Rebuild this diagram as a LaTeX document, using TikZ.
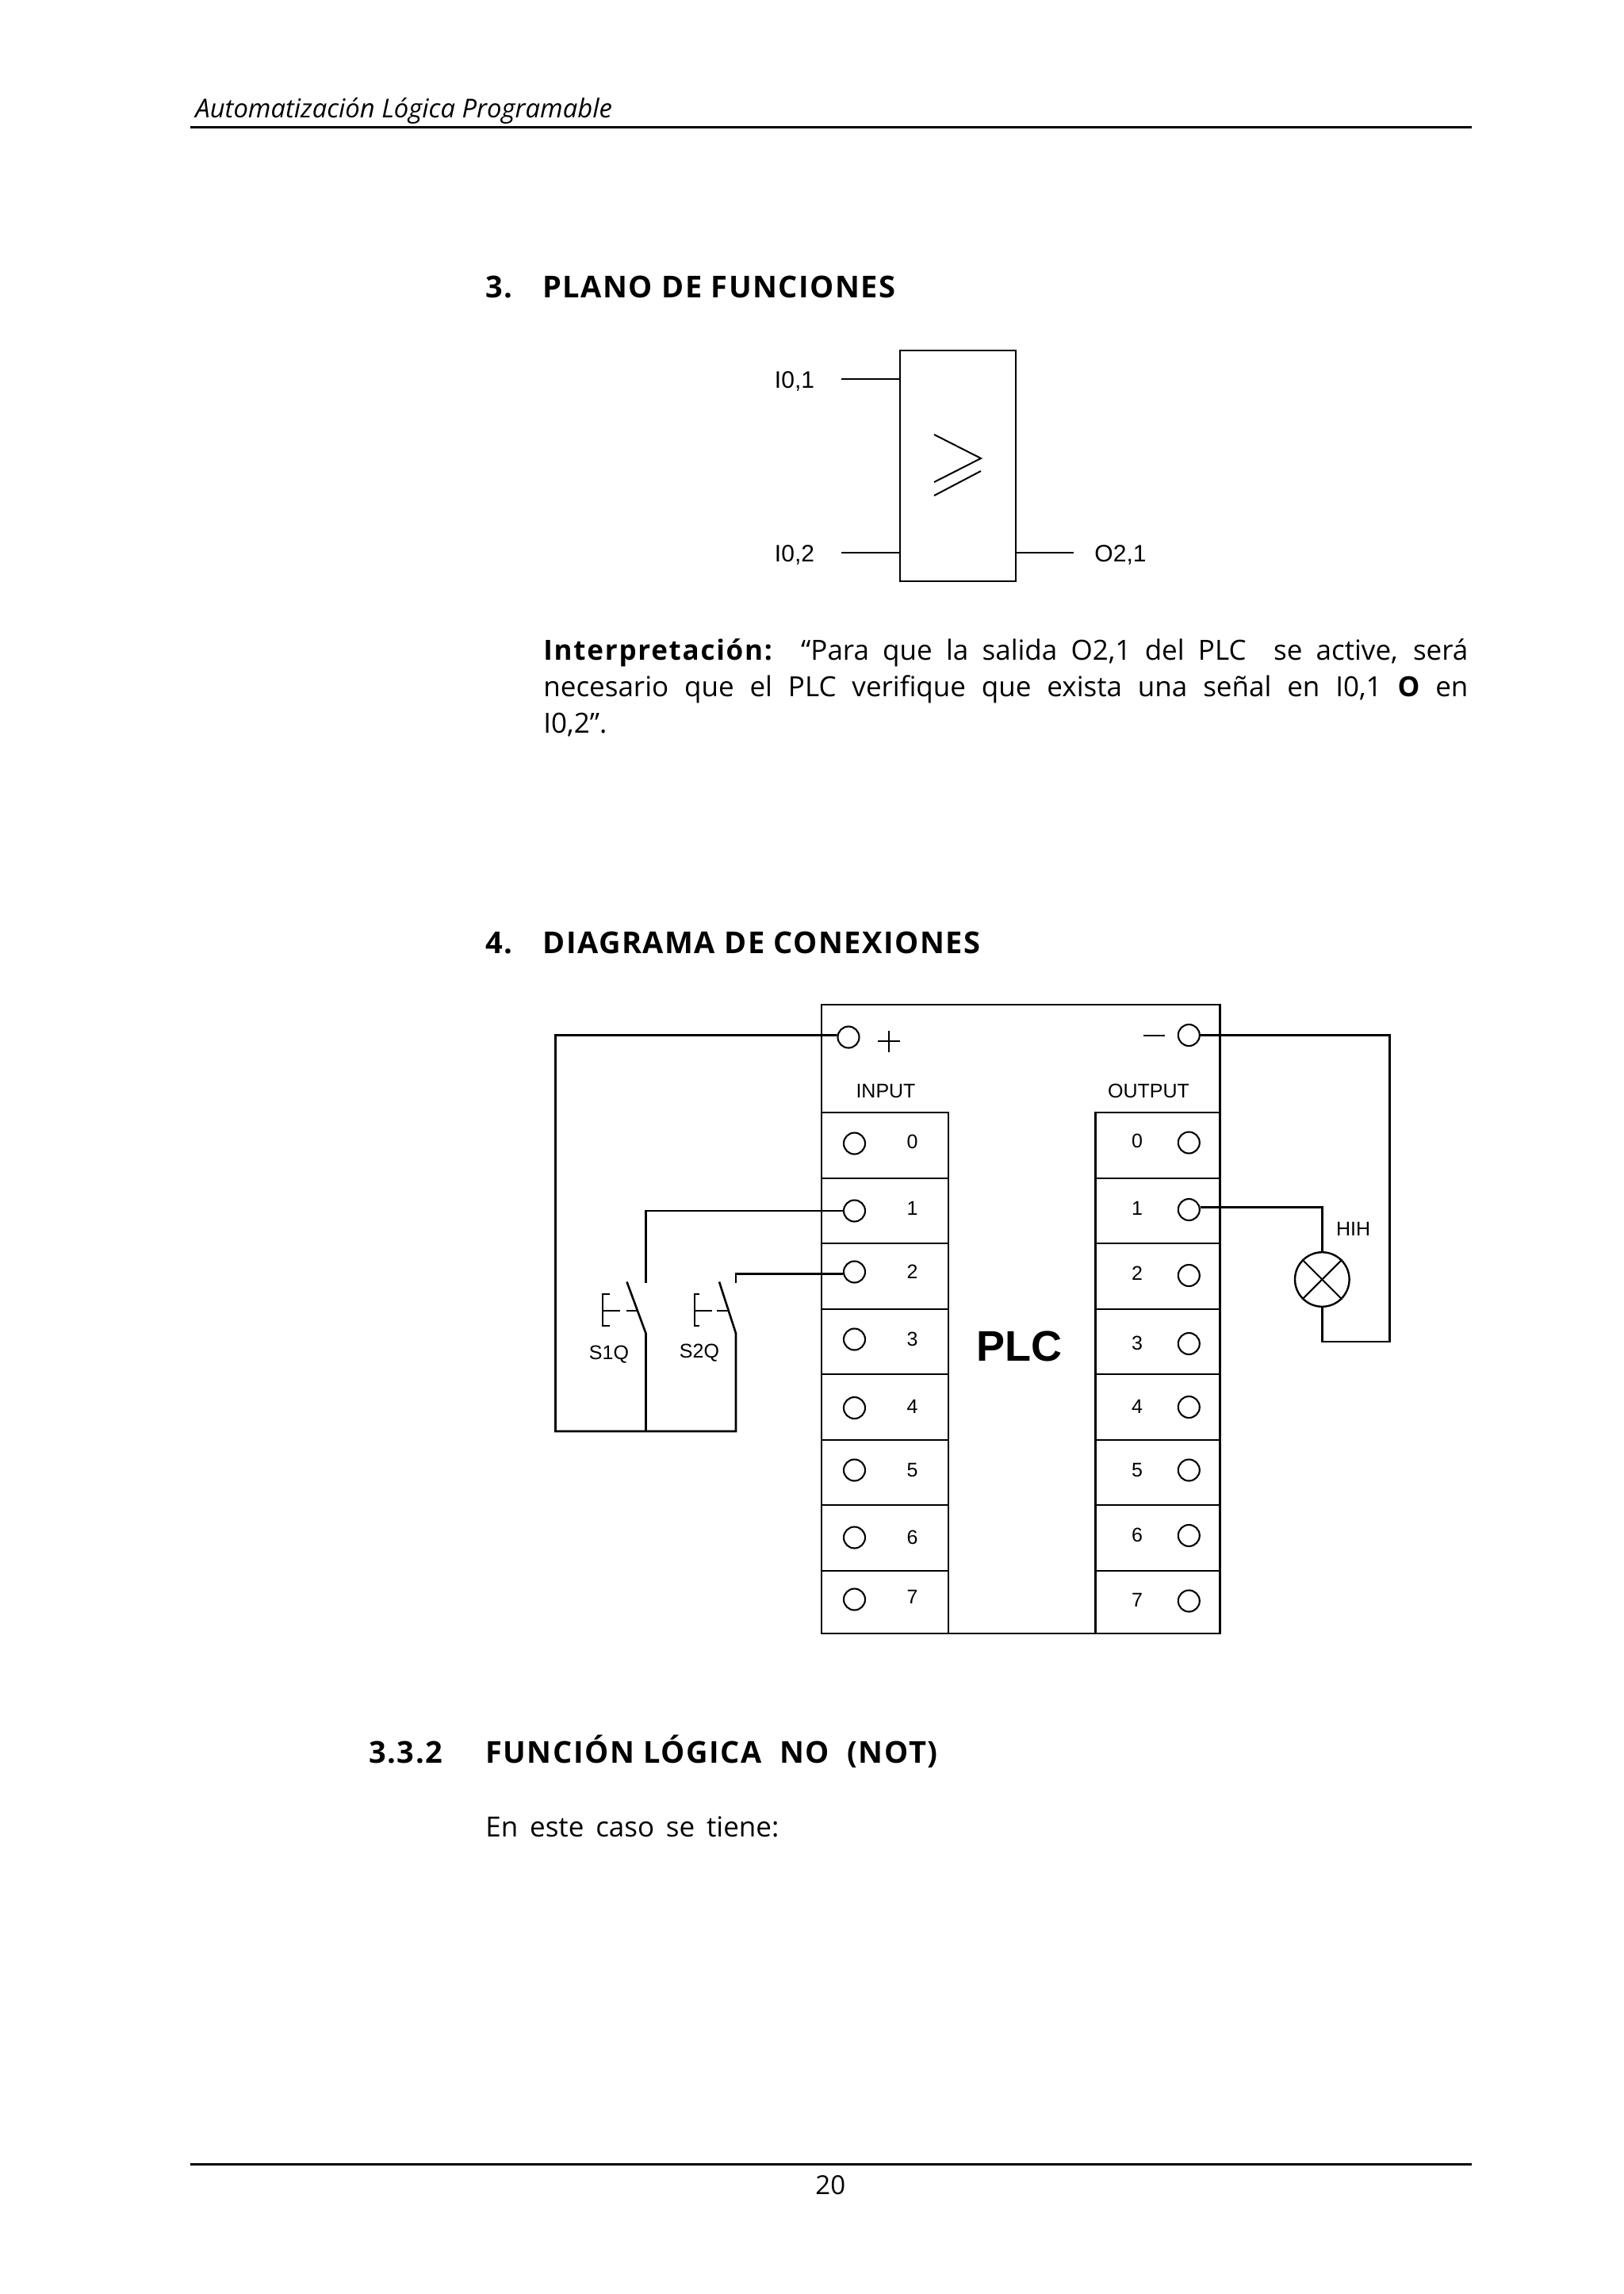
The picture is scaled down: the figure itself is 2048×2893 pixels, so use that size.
\documentclass[tikz,border=0pt]{standalone}
\usepackage{fontspec}
\setmainfont{Open Sans}
\newfontfamily\arialf{Liberation Sans}
\tikzset{
  txt/.style={inner sep=0pt,anchor=base west,font=\fontsize{17.5}{20}\selectfont},
  head/.style={inner sep=0pt,anchor=base west,font=\fontsize{19}{20}\selectfont\bfseries\addfontfeature{LetterSpace=4}},
  lab/.style={inner sep=0pt,font=\arialf\fontsize{12.5}{14}\selectfont},
  wire/.style={line width=1.3pt,line join=miter},
  thin wire/.style={line width=1pt},
  rule/.style={line width=1.6pt},
  term/.style={circle,draw,inner sep=0pt,minimum size=13.5pt,line width=1.05pt,fill=white},
  lamp/.style={circle,draw,inner sep=0pt,minimum size=34.3pt,line width=1.2pt},
}
\begin{document}
\begin{tikzpicture}[x=0.5pt,y=-0.5pt]
\useasboundingbox (0,0) rectangle (2048,2893);
% page furniture
\coordinate (rt1) at (240,160.5); \coordinate (rt2) at (1856,160.5);
\coordinate (rb1) at (240,2729.5); \coordinate (rb2) at (1856,2729.5);
\draw[rule] (rt1) -- (rt2);
\draw[rule] (rb1) -- (rb2);
\node[txt,font=\fontsize{16.4}{20}\selectfont\itshape] (hdr) at (246,148.5) {Automatización Lógica Programable};
\node[txt,font=\fontsize{16.5}{20}\selectfont] (pg) at (1028,2767.5) {20};
% headings
\node[head] (h3n) at (612,375) {3.};
\node[head] (h3) at (684,375) {PLANO DE FUNCIONES};
\node[head] (h4n) at (612,1202) {4.};
\node[head] (h4) at (684,1202) {DIAGRAMA DE CONEXIONES};
\node[head] (h5n) at (465,2223) {3.3.2};
\node[head] (h5) at (612,2223) {FUNCIÓN LÓGICA\ \ NO\ \ (NOT)};
\node[txt] (en) at (612,2316) {\hbox to 185pt{En este caso se tiene:}};
% interpretation
\node[txt] (p1) at (685,832) {\hbox to 583pt{\textbf{\addfontfeature{LetterSpace=5}Interpretación:}\ \ “Para que la salida O2,1 del PLC\ \ se active, será}};
\node[txt] (p2) at (685,878) {\hbox to 583pt{necesario que el PLC verifique que exista una señal en I0,1 \textbf{O} en}};
\node[txt] (p3) at (685,924) {I0,2”.};
% function block
\node[draw,wire,inner sep=0pt,minimum width=73pt,minimum height=145.5pt] (fb) at (1208,587.5) {};
\coordinate (a1) at (1061,478); \coordinate (a2) at (1061,697); \coordinate (a3) at (1354,697);
\draw[wire] (a1) -- (a1 -| fb.west);
\draw[wire] (a2) -- (a2 -| fb.west);
\draw[wire] (a3 -| fb.east) -- (a3);
\node[lab,font=\arialf\fontsize{15}{16}\selectfont] (l1) at (1002,480.5) {I0,1};
\node[lab,font=\arialf\fontsize{15}{16}\selectfont] (l2) at (1002,699.5) {I0,2};
\node[lab,font=\arialf\fontsize{15}{16}\selectfont] (l3) at (1413,699.5) {O2,1};
\coordinate (g1) at (1178,548); \coordinate (g2) at (1237,578); \coordinate (g3) at (1178,608);
\coordinate (g4) at (1237,594); \coordinate (g5) at (1178,625);
\draw[thin wire] (g1) -- (g2) -- (g3);
\draw[thin wire] (g4) -- (g5);
% PLC body
\coordinate (bodyTL) at (1036,1267); \coordinate (bodyBR) at (1538.7,2060);
\draw[wire] (bodyTL) rectangle (bodyBR);
\coordinate (colI) at (1196,1403); \coordinate (colIb) at (1196,2060);
\coordinate (colO) at (1381.7,1403); \coordinate (colOb) at (1381.7,2060);
\draw[wire] (bodyTL |- colI) -- (colI) -- (colIb);
\draw[wire] (bodyBR |- colO) -- (colO) -- (colOb);
\foreach \yy in {1486,1568,1651,1733,1816,1898,1981}{
  \draw[wire] (1036,\yy) -- (1196,\yy);
  \draw[wire] (1381.7,\yy) -- (1538.7,\yy);
}
\node[lab] (inp) at (1117,1376) {INPUT};
\node[lab] (outp) at (1448.5,1376) {OUTPUT};
\node[inner sep=0pt,font=\arialf\fontsize{27}{30}\selectfont\bfseries] (plc) at (1285.5,1698) {PLC};
% terminals
\node[term] (tp) at (1070,1308) {};
\node[term] (tm) at (1499.3,1305.5) {};
\foreach \n/\iy/\ily/\oy/\oly in {0/1442/1439.5/1441/1439,1/1527/1524/1525.5/1524,2/1604/1604/1608.5/1606,3/1689/1689/1694.5/1694,4/1775.5/1774/1774.5/1774,5/1854/1853.5/1854/1853.5,6/1939/1939/1936.5/1936,7/2017/2013.5/2019/2018}{
  \node[term] (i\n) at (1077.5,\iy) {};
  \node[term] (o\n) at (1499.3,\oy) {};
  \node[lab] (il\n) at (1150.5,\ily) {\n};
  \node[lab] (ol\n) at (1434,\oly) {\n};
}
% plus and minus
\coordinate (pl) at (1107,1313); \coordinate (pr) at (1135,1313);
\coordinate (pt) at (1121,1300); \coordinate (pb) at (1121,1327);
\draw[thin wire] (pl) -- (pr);
\draw[thin wire] (pt) -- (pb);
\coordinate (ml) at (1442.3,1305.5); \coordinate (mr) at (1469.3,1305.5);
\draw[thin wire] (ml) -- (mr);
% input wiring
\coordinate (lc) at (700.5,1805);
\coordinate (s2b) at (928,1805);
\coordinate (s1b) at (814.5,1805);
\coordinate (s1h) at (814.5,1681.5);
\coordinate (s1t) at (790.5,1616.5);
\coordinate (s1c) at (814.5,1618);
\coordinate (s2h) at (928,1681.5);
\coordinate (s2t) at (907,1616.5);
\coordinate (s2c) at (928,1618);
\draw[wire] (tp.170) -| (lc) -- (s2b) -- (s2h) -- (s2t);
\draw[wire] (s1b) -- (s1h) -- (s1t);
\draw[wire] (i1.west) -| (s1c);
\draw[wire] (i2.190) -| (s2c);
% push buttons
\coordinate (b1a) at (768.5,1632); \coordinate (b1b) at (759.5,1632);
\coordinate (b1c) at (759.5,1672); \coordinate (b1d) at (768.5,1672);
\coordinate (b1m) at (759.5,1653); \coordinate (b1e) at (782,1653);
\coordinate (b1f) at (790,1653); \coordinate (b1g) at (803,1653);
\draw[thin wire] (b1a) -- (b1b) -- (b1c) -- (b1d);
\draw[thin wire] (b1m) -- (b1e);
\draw[thin wire] (b1f) -- (b1g);
\coordinate (b2a) at (882,1632); \coordinate (b2b) at (875.5,1632);
\coordinate (b2c) at (875.5,1672); \coordinate (b2d) at (882,1672);
\coordinate (b2m) at (875.5,1653); \coordinate (b2e) at (897.5,1653);
\coordinate (b2f) at (903.5,1653); \coordinate (b2g) at (918.5,1653);
\draw[thin wire] (b2a) -- (b2b) -- (b2c) -- (b2d);
\draw[thin wire] (b2m) -- (b2e);
\draw[thin wire] (b2f) -- (b2g);
\node[lab] (s1q) at (768,1708) {S1Q};
\node[lab] (s2q) at (882,1706.5) {S2Q};
% output wiring
\node[lamp] (lmp) at (1667.3,1613.5) {};
\draw[thin wire] (lmp.45) -- (lmp.225);
\draw[thin wire] (lmp.135) -- (lmp.-45);
\coordinate (lb) at (1752.7,1692);
\draw[wire] (o1.12) -| (lmp.north);
\draw[wire] (lmp.south) |- (lb) |- (tm.east);
\node[lab] (hih) at (1706.7,1550) {HIH};
\end{tikzpicture}
\end{document}
